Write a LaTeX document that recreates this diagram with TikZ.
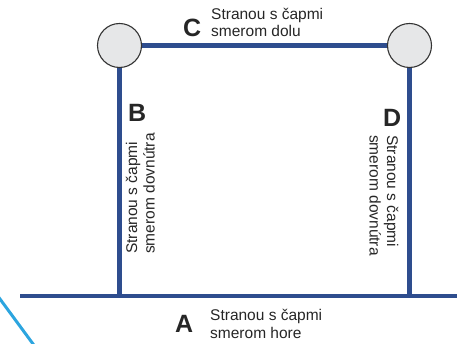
\documentclass[tikz,border=0pt]{standalone}
\usepackage{fontspec}
\setmainfont{Liberation Sans}
\usetikzlibrary{backgrounds}

\definecolor{railblue}{HTML}{2E4D8E}
\definecolor{skyblue}{HTML}{2CA5DF}
\definecolor{postgray}{HTML}{E6E7E8}

\begin{document}
\begin{tikzpicture}[
  x = 1pt,
  y = -1pt,
  % ── Corner post ─────────────────────────────────────────
  post/.style={
    circle,
    draw           = black!80,
    line width     = 1.1pt,
    fill           = postgray,
    minimum size   = 44pt,
    inner sep      = 0pt
  },
  % ── Rail ────────────────────────────────────────────────
  rail/.style={
    draw       = railblue,
    line width = 4.5pt
  },
  % ── Side letter ─────────────────────────────────────────
  sidelbl/.style={
    font      = \fontsize{25}{25}\selectfont\bfseries,
    text      = black!85,
    inner sep = 0pt,
    anchor    = base west
  },
  % ── Side description (anchored on its last line) ────────
  sidetxt/.style={
    font      = \fontsize{15.5}{17.5}\selectfont,
    text      = black!85,
    align     = left,
    inner sep = 0pt,
    anchor    = base west
  }
]
\useasboundingbox (0,0) rectangle (457,344);

% ── Posts and rail ends ───────────────────────────────────
\node[post] (pl) at (119.5,45.5) {};
\node[post] (pr) at (409.5,45.5) {};
\coordinate (al) at (20,296);
\coordinate (ar) at (457,296);
\coordinate (s0) at (-2,296.3);
\coordinate (s1) at (36,348);

% ── Rails ─────────────────────────────────────────────────
\begin{scope}[on background layer]
  \draw[rail] (pl) -- (pr);
  \draw[rail] (al) -- (ar);
  \foreach \p in {pl, pr}
    \draw[rail] (\p) -- (\p |- al);
  \draw[draw=skyblue, line width=3pt] (s0) -- (s1);
\end{scope}

% ── Labels ────────────────────────────────────────────────
\node[sidelbl] (lA) at (175,332) {A};
\node[sidetxt] (tA) at (210,338) {Stranou s čapmi\\smerom hore};
\node[sidelbl] (lB) at (128,122) {B};
\node[sidetxt, rotate=90] (tB) at (154.5,254) {Stranou s čapmi\\smerom dovnútra};
\node[sidelbl] (lC) at (183,37) {C};
\node[sidetxt] (tC) at (211,37) {Stranou s čapmi\\smerom dolu};
\node[sidelbl] (lD) at (383,127) {D};
\node[sidetxt, rotate=-90] (tD) at (369.5,135) {Stranou s čapmi\\smerom dovnútra};

\end{tikzpicture}
\end{document}
